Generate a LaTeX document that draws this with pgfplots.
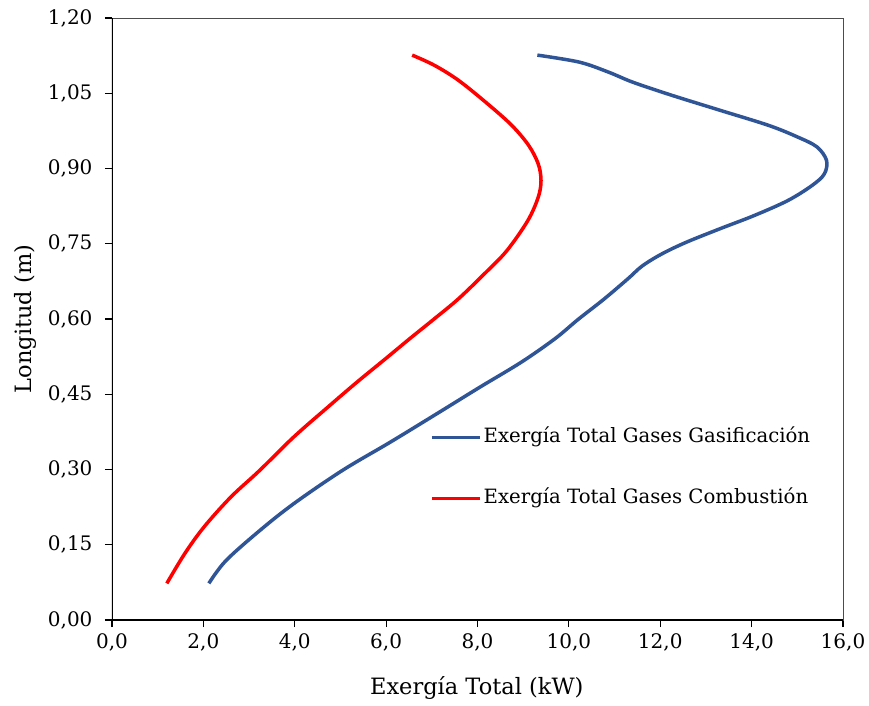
\documentclass[border=0pt]{standalone}
\usepackage{fontspec}
\setmainfont{DejaVu Serif}
\usepackage{pgfplots}
\pgfplotsset{compat=1.18}
\usetikzlibrary{calc}
\definecolor{gblue}{RGB}{47,85,151}
\definecolor{cred}{RGB}{255,0,0}
\begin{document}
\begin{tikzpicture}
\begin{axis}[
  scale only axis,
  width=731pt, height=602pt,
  xmin=0, xmax=16, ymin=0, ymax=1.2,
  xtick={0,2,...,16},
  ytick={0,0.15,0.30,0.45,0.60,0.75,0.90,1.05,1.20},
  tick pos=left,
  tick align=outside,
  major tick length=7pt,
  tick style={black, line width=1.2pt},
  axis line style={black!70, line width=0.8pt},
  /pgf/number format/assume math mode=true,
  xticklabel style={/pgf/number format/.cd, use comma, fixed, fixed zerofill, precision=1, /tikz/.cd, yshift=-3pt},
  yticklabel style={/pgf/number format/.cd, use comma, fixed, fixed zerofill, precision=2, /tikz/.cd, xshift=-9pt},
  ticklabel style={font=\fontsize{20}{24}\selectfont},
  xlabel={Exergía Total (kW)},
  ylabel={Longitud (m)},
  label style={font=\fontsize{22.5}{27}\selectfont},
  xlabel style={at={(axis description cs:0.499,-0.113)}, anchor=center},
  ylabel style={at={(axis description cs:-0.119,0.5)}, anchor=center},
  legend style={draw=none, fill=none, at={(axis cs:6.96,0.386)}, anchor=north west,
    inner sep=0pt, row sep=39pt, font=\fontsize{19.7}{23}\selectfont,
    nodes={inner sep=2pt, text height=14pt, text depth=4pt}},
  legend cell align=left,
  legend image code/.code={\draw[#1, line width=3.5pt] (0pt,0pt) -- (48pt,0pt);},
]
\addplot[gblue, line width=3.5pt, smooth, tension=0.55] coordinates {
(2.12,0.073)(2.49,0.118)(3.23,0.178)(3.98,0.232)(5.04,0.298)(6.10,0.355)(7.16,0.414)(8.05,0.464)(8.96,0.514)(9.70,0.561)(10.20,0.599)(10.76,0.639)(11.29,0.680)(11.61,0.706)(12.04,0.730)(12.57,0.753)(13.31,0.780)(14.05,0.806)(14.79,0.836)(15.32,0.866)(15.59,0.889)(15.64,0.916)(15.43,0.943)(15.00,0.963)(14.37,0.986)(13.31,1.016)(12.25,1.046)(11.40,1.072)(10.87,1.092)(10.23,1.112)(9.31,1.126)
};
\addlegendentry{Exergía Total Gases Gasificación}
\addplot[cred, line width=3.5pt, smooth, tension=0.55] coordinates {
(1.20,0.073)(1.59,0.132)(2.01,0.185)(2.60,0.245)(3.23,0.298)(3.98,0.365)(4.72,0.424)(5.36,0.474)(5.99,0.521)(6.52,0.561)(7.05,0.600)(7.58,0.640)(8.15,0.690)(8.64,0.736)(9.10,0.796)(9.33,0.843)(9.39,0.876)(9.33,0.909)(9.12,0.946)(8.75,0.986)(8.22,1.029)(7.58,1.076)(7.05,1.106)(6.57,1.126)
};
\addlegendentry{Exergía Total Gases Combustión}
\draw[black, line width=2pt] (rel axis cs:0,1) -- (rel axis cs:0,0) -- (rel axis cs:1,0);
\coordinate (bl) at (rel axis cs:0,0);
\coordinate (tr) at (rel axis cs:1,1);
\end{axis}
\useasboundingbox ($(bl)+(-112pt,-85pt)$) rectangle ($(tr)+(26pt,18pt)$);
\end{tikzpicture}
\end{document}
